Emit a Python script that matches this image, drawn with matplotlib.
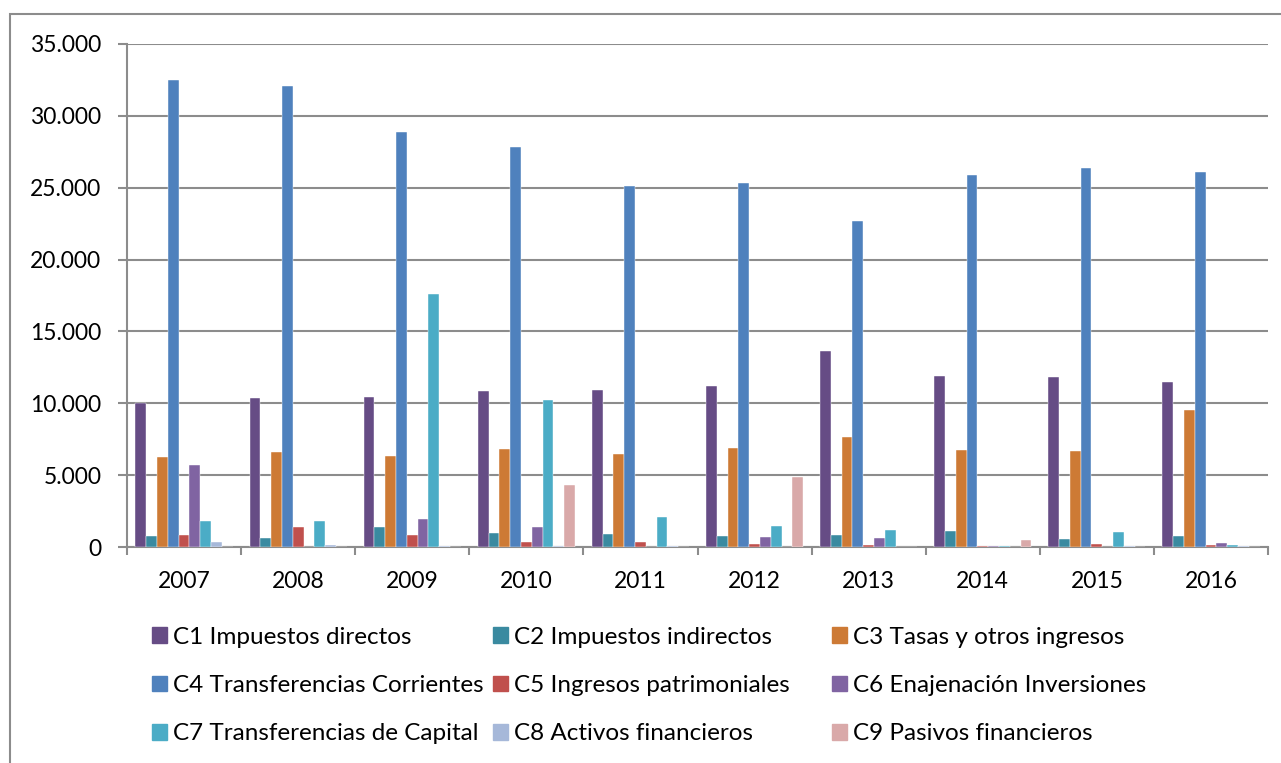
import numpy as np
import matplotlib.pyplot as plt
from matplotlib.patches import Rectangle
from matplotlib.ticker import FuncFormatter, FixedLocator

plt.rcParams['font.family'] = ['Lato', 'DejaVu Sans']

years = ['2007', '2008', '2009', '2010', '2011', '2012', '2013', '2014', '2015', '2016']

c1 = [10050, 10390, 10410, 10880, 10900, 11170, 13650, 11900, 11850, 11500]
c2 = [760, 620, 1370, 990, 900, 760, 810, 1130, 580, 740]
c3 = [6290, 6590, 6320, 6800, 6450, 6870, 7630, 6750, 6660, 9560]
c4 = [32500, 32050, 28850, 27800, 25150, 25350, 22650, 25850, 26350, 26100]
c5 = [830, 1390, 810, 370, 330, 210, 130, 100, 200, 120]
c6 = [5690, 0, 1940, 1370, 0, 670, 650, 100, 0, 280]
c7 = [1780, 1780, 17600, 10220, 2080, 1440, 1200, 80, 1040, 150]
c8 = [350, 150, 100, 100, 50, 0, 0, 30, 50, 100]
c9 = [0, 0, 0, 4280, 0, 4840, 0, 510, 0, 0]

series = [c1, c2, c3, c4, c5, c6, c7, c8, c9]
labels = ['C1 Impuestos directos', 'C2 Impuestos indirectos', 'C3 Tasas y otros ingresos',
          'C4 Transferencias Corrientes', 'C5 Ingresos patrimoniales', 'C6 Enajenación Inversiones',
          'C7 Transferencias de Capital', 'C8 Activos financieros', 'C9 Pasivos financieros']
colors = ['#664C85', '#3A8AA0', '#CD7A35', '#4F81BD', '#C0504D', '#8064A2',
          '#4BACC6', '#A6B8D9', '#D9A9A9']

fig = plt.figure(figsize=(12.81, 7.63), dpi=100)
ax = fig.add_axes([127 / 1281, 1 - 547 / 763, (1268 - 127) / 1281, (547 - 44) / 763])

x = np.arange(len(years))
w = 0.0947
for i, (vals, lab, col) in enumerate(zip(series, labels, colors)):
    ax.bar(x + (i - 4) * w, vals, w, color=col, label=lab,
           edgecolor='white', linewidth=0.3, zorder=3)

grid_col = '#8C8C8C'
ax.set_xlim(-0.5, 9.5)
ax.set_ylim(0, 35000)
ax.set_yticks(np.arange(0, 35001, 5000))
ax.yaxis.set_major_formatter(FuncFormatter(lambda v, p: f"{int(v):,}".replace(',', '.')))
ax.yaxis.grid(True, color=grid_col, linewidth=1.5, zorder=0)
ax.set_xticks(x)
ax.set_xticklabels(years)
ax.xaxis.set_minor_locator(FixedLocator(np.arange(-0.5, 10, 1)))

ax.tick_params(axis='x', which='major', length=0, pad=17, labelsize=16.5)
ax.tick_params(axis='x', which='minor', length=6, width=1.5, color=grid_col)
ax.tick_params(axis='y', length=6.5, width=1.5, color=grid_col, pad=12, labelsize=16.5)

for s in ['top', 'right']:
    ax.spines[s].set_visible(False)
for s in ['left', 'bottom']:
    ax.spines[s].set_color(grid_col)
    ax.spines[s].set_linewidth(1.5)

# chart frame
fig.patches.append(Rectangle((10 / 1281, -0.1), 1.1, 1 - 14 / 763 + 0.1,
                             transform=fig.transFigure, fill=False,
                             edgecolor='#8C8C8C', linewidth=1.5))

# legend: three equal-width columns, rows C1-C3, C4-C6, C7-C9
col_x = [152, 493, 832]
for c in range(3):
    idx = [c, c + 3, c + 6]
    handles = [Rectangle((0, 0), 1, 1, color=colors[k]) for k in idx]
    fig.legend(handles, [labels[k] for k in idx], loc='upper left',
               bbox_to_anchor=(col_x[c] / 1281, 1 - 626.5 / 763),
               frameon=False, fontsize=17.5, handlelength=0.62, handleheight=0.62,
               handletextpad=0.25, labelspacing=1.13,
               borderaxespad=0, borderpad=0)

fig.savefig('out.png', dpi=100)
